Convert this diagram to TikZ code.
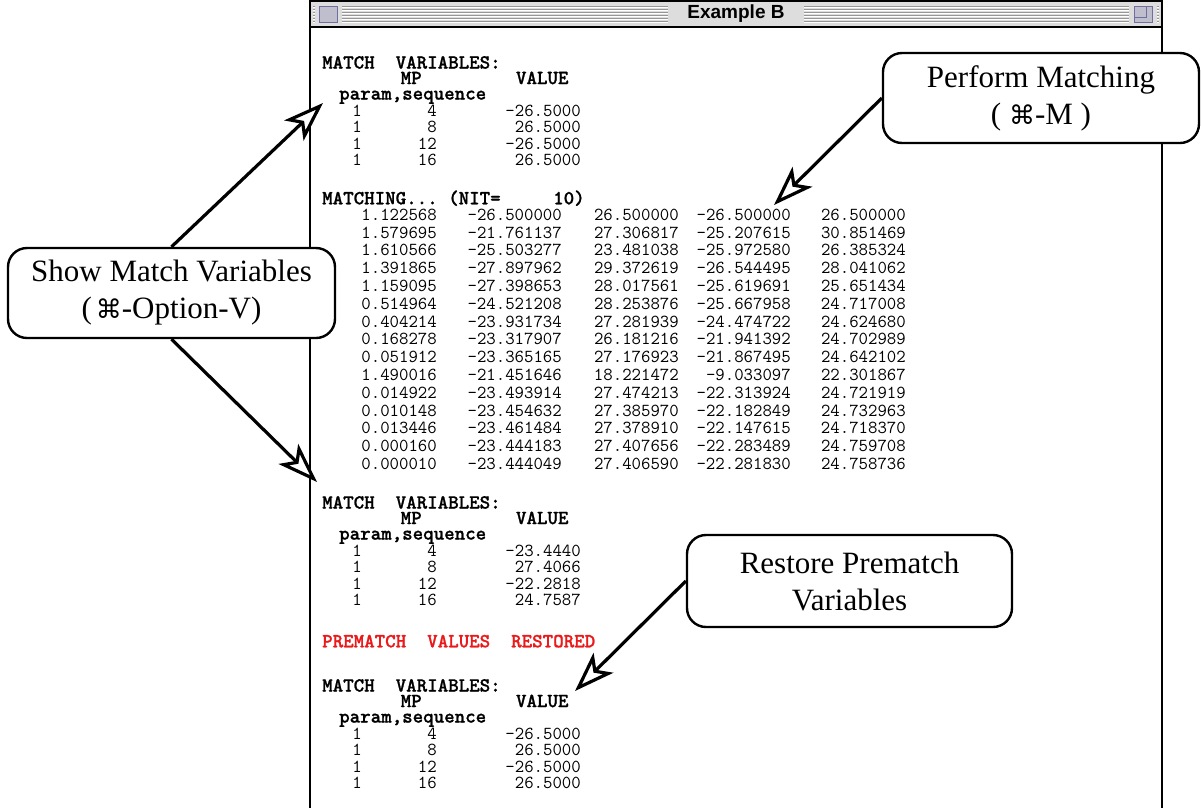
\documentclass[tikz,border=0pt]{standalone}
\usepackage{fontspec}
\setmainfont{Liberation Serif}
\newfontfamily\symfont{DejaVu Sans}
\newfontfamily\titlefont{Liberation Sans}
\newfontfamily\monobold[FakeBold=1]{lmmonolt10-bold.otf}
\usetikzlibrary{arrows.meta}
\definecolor{stripe}{RGB}{150,150,150}
\definecolor{barbg}{RGB}{221,221,221}
\definecolor{boxblue}{RGB}{110,110,160}
\definecolor{boxfill}{RGB}{190,190,205}
\definecolor{prered}{RGB}{235,25,25}
\newcommand\cmdkey{{\symfont\fontsize{26}{26}\selectfont ⌘}}
\tikzset{
  callout/.style={draw=black, line width=2.4pt, rounded corners=19pt, fill=white,
    align=center, font=\fontsize{31}{37}\selectfont, inner sep=0pt},
  pointer/.style={line width=3.2pt, -{Stealth[open, fill=white, length=40pt, width=28pt, inset=10pt]}},
  hdr/.style={font=\monobold\fontsize{20}{16.8}\selectfont, inner sep=0pt},
  dat/.style={font=\ttfamily\fontsize{18.3}{18.3}\selectfont, inner sep=0pt},
  redhdr/.style={hdr, text=prered},
}
\newcommand\mblock[6]{%
  \node[hdr, anchor=north west, align=left] (#1h) at (322,#2-6.1)
    {MATCH~~VARIABLES:\\[-1.3pt]\hspace*{78.5pt}MP\hspace*{94.3pt}VALUE\\[-1.3pt]\hspace*{17pt}param,sequence};
  \node[dat, anchor=mid] (#1pa) at (357,#2+52) {1};
  \node[dat, anchor=mid east] (#1sa) at (437,#2+52) {4};
  \node[dat, anchor=mid east] (#1va) at (581,#2+52) {#3};
  \node[dat, anchor=mid] (#1pb) at (357,#2+68) {1};
  \node[dat, anchor=mid east] (#1sb) at (437,#2+68) {8};
  \node[dat, anchor=mid east] (#1vb) at (581,#2+68) {#4};
  \node[dat, anchor=mid] (#1pc) at (357,#2+85) {1};
  \node[dat, anchor=mid east] (#1sc) at (437,#2+85) {12};
  \node[dat, anchor=mid east] (#1vc) at (581,#2+85) {#5};
  \node[dat, anchor=mid] (#1pd) at (357,#2+101) {1};
  \node[dat, anchor=mid east] (#1sd) at (437,#2+101) {16};
  \node[dat, anchor=mid east] (#1vd) at (581,#2+101) {#6};
}
\begin{document}
\begin{tikzpicture}[x=1pt,y=-1pt]
\useasboundingbox (0,0) rectangle (1201,807);
\fill[white] (0,0) rectangle (1201,807);
% window title bar
\fill[barbg] (310,1) rectangle (1162,27);
\foreach \s in {6,9,...,21}{
  \draw[stripe, line width=1pt] (313,\s) -- (1159,\s);
  \draw[white, line width=1pt] (313,\s+1) -- (1159,\s+1);
}
\fill[barbg] (315,3) rectangle (342,25);
\draw[boxblue, line width=1pt, fill=boxfill] (319,6) rectangle (337,22);
\fill[barbg] (668,3) rectangle (804,25);
\node[font=\titlefont\bfseries\fontsize{19}{19}\selectfont, inner sep=0pt] (title) at (736,14) {Example B};
\fill[barbg] (1129,3) rectangle (1157,25);
\draw[boxblue, line width=1pt, fill=boxfill] (1134,6) rectangle (1152,22);
\draw[boxblue, line width=1pt] (1134,6) rectangle (1146,17);
% window frame
\draw[line width=1.6pt] (310,810) -- (310,1) -- (1162,1) -- (1162,810);
\draw[line width=1.2pt] (310,27) -- (1162,27);
% blocks
\mblock{ba}{62}{-26.5000}{26.5000}{-26.5000}{26.5000}
\node[hdr, anchor=mid west] (mhead) at (322,202) {MATCHING...~(NIT=~~~~~10)};
\foreach \i/\a/\b/\c/\d/\e in {
0/1.122568/-26.500000/26.500000/-26.500000/26.500000,
1/1.579695/-21.761137/27.306817/-25.207615/30.851469,
2/1.610566/-25.503277/23.481038/-25.972580/26.385324,
3/1.391865/-27.897962/29.372619/-26.544495/28.041062,
4/1.159095/-27.398653/28.017561/-25.619691/25.651434,
5/0.514964/-24.521208/28.253876/-25.667958/24.717008,
6/0.404214/-23.931734/27.281939/-24.474722/24.624680,
7/0.168278/-23.317907/26.181216/-21.941392/24.702989,
8/0.051912/-23.365165/27.176923/-21.867495/24.642102,
9/1.490016/-21.451646/18.221472/-9.033097/22.301867,
10/0.014922/-23.493914/27.474213/-22.313924/24.721919,
11/0.010148/-23.454632/27.385970/-22.182849/24.732963,
12/0.013446/-23.461484/27.378910/-22.147615/24.718370,
13/0.000160/-23.444183/27.407656/-22.283489/24.759708,
14/0.000010/-23.444049/27.406590/-22.281830/24.758736}{
  \node[dat, anchor=mid east] (m\i-a) at (437,218+17.8*\i) {\a};
  \node[dat, anchor=mid east] (m\i-b) at (562,218+17.8*\i) {\b};
  \node[dat, anchor=mid east] (m\i-c) at (679,218+17.8*\i) {\c};
  \node[dat, anchor=mid east] (m\i-d) at (791,218+17.8*\i) {\d};
  \node[dat, anchor=mid east] (m\i-e) at (906,218+17.8*\i) {\e};
}
\mblock{bb}{502}{-23.4440}{27.4066}{-22.2818}{24.7587}
\node[redhdr, anchor=mid west] (pre) at (322,645) {PREMATCH~~VALUES~~RESTORED};
\mblock{bc}{685}{-26.5000}{26.5000}{-26.5000}{26.5000}
% callouts
\node[callout, minimum width=327pt, minimum height=90pt] (show) at (171.5,293)
  {Show Match Variables\\(\hspace{4pt}\cmdkey-Option-V)};
\node[callout, minimum width=316pt, minimum height=90pt] (perform) at (1041,98)
  {Perform Matching\\( \cmdkey-M )};
\node[callout, minimum width=325pt, minimum height=92pt] (restore) at (849.5,581)
  {Restore Prematch\\Variables};
% pointers
\coordinate (tipA) at (323,103);
\coordinate (tipB) at (317,482);
\coordinate (tipC) at (774,205);
\coordinate (tipD) at (575,691);
\draw[pointer] (show.north) -- (tipA);
\draw[pointer] (show.south) -- (tipB);
\draw[pointer] (perform.west) -- (tipC);
\draw[pointer] (restore.west) -- (tipD);
\end{tikzpicture}
\end{document}
